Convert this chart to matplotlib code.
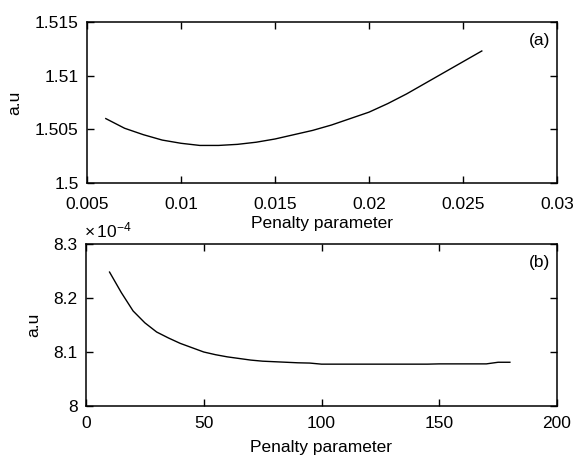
import matplotlib
matplotlib.use("Agg")
import matplotlib.pyplot as plt

# Panel (a)
a_x = [0.006, 0.007, 0.008, 0.009, 0.010, 0.011, 0.012, 0.013, 0.014, 0.015, 0.016,
       0.017, 0.018, 0.019, 0.020, 0.021, 0.022, 0.023, 0.024, 0.025, 0.026]
a_y = [1.5060, 1.5051, 1.5045, 1.5040, 1.5037, 1.5035, 1.5035, 1.5036, 1.5038, 1.5041, 1.5045,
       1.5049, 1.5054, 1.5060, 1.5066, 1.5074, 1.5083, 1.5093, 1.5103, 1.5113, 1.5123]
a_xticks = [0.005, 0.01, 0.015, 0.02, 0.025, 0.03]
a_xlabels = ["0.005", "0.01", "0.015", "0.02", "0.025", "0.03"]
a_yticks = [1.5, 1.505, 1.51, 1.515]
a_ylabels = ["1.5", "1.505", "1.51", "1.515"]

# Panel (b) (values in units of 1e-4)
b_x = [10, 15, 20, 25, 30, 35, 40, 45, 50, 55, 60, 65, 70, 75, 80, 85, 90, 95, 100,
       110, 120, 130, 140, 145, 150, 160, 170, 175, 180]
b_y = [8.248, 8.210, 8.176, 8.154, 8.137, 8.126, 8.116, 8.108, 8.100, 8.095, 8.091,
       8.088, 8.085, 8.083, 8.082, 8.081, 8.080, 8.0795, 8.0775,
       8.0775, 8.0775, 8.0775, 8.0775, 8.0775, 8.078, 8.078, 8.078, 8.081, 8.081]
b_xticks = [0, 50, 100, 150, 200]
b_xlabels = ["0", "50", "100", "150", "200"]
b_yticks = [8.0, 8.1, 8.2, 8.3]
b_ylabels = ["8", "8.1", "8.2", "8.3"]

plt.rcParams['font.family'] = ['Liberation Sans', 'DejaVu Sans']
plt.rcParams['mathtext.fontset'] = 'custom'
plt.rcParams['mathtext.rm'] = 'Liberation Sans'
plt.rcParams['mathtext.it'] = 'Liberation Sans'

FS = 12.5
fig = plt.figure(figsize=(5.76, 4.59), dpi=100)
W, H = 576, 459
axA = fig.add_axes([87 / W, 1 - 183 / H, (557 - 87) / W, (183 - 22) / H])
axB = fig.add_axes([86 / W, 1 - 406 / H, (557 - 86) / W, (406 - 244) / H])

def style(ax, xt, xl, yt, yl, xlim, ylim, xpad, lpad):
    ax.set_xlim(*xlim)
    ax.set_ylim(*ylim)
    ax.set_xticks(xt)
    ax.set_xticklabels(xl)
    ax.set_yticks(yt)
    ax.set_yticklabels(yl)
    ax.tick_params(direction='in', top=True, right=True, length=5, width=1,
                   labelsize=FS, colors='black')
    ax.tick_params(axis='x', pad=xpad)
    ax.tick_params(axis='y', pad=6)
    for s in ax.spines.values():
        s.set_linewidth(1.1)
        s.set_color('black')
    ax.set_xlabel("Penalty parameter", fontsize=FS, labelpad=lpad)
    ax.set_ylabel("a.u", fontsize=FS, labelpad=9)

axA.plot(a_x, a_y, color='black', linewidth=1.0)
style(axA, a_xticks, a_xlabels, a_yticks, a_ylabels, (0.005, 0.03), (1.5, 1.515), 10, 3)
axA.text(0.985, 0.93, "(a)", transform=axA.transAxes, ha='right', va='top', fontsize=FS)

axB.plot(b_x, b_y, color='black', linewidth=1.0)
style(axB, b_xticks, b_xlabels, b_yticks, b_ylabels, (0, 200), (8.0, 8.3), 7, 7)
axB.text(0.985, 0.93, "(b)", transform=axB.transAxes, ha='right', va='top', fontsize=FS)
axB.text(-0.005, 1.02, r"$\times\,10^{-4}$", transform=axB.transAxes, ha='left', va='bottom', fontsize=FS)

fig.savefig("out.png", dpi=100)
